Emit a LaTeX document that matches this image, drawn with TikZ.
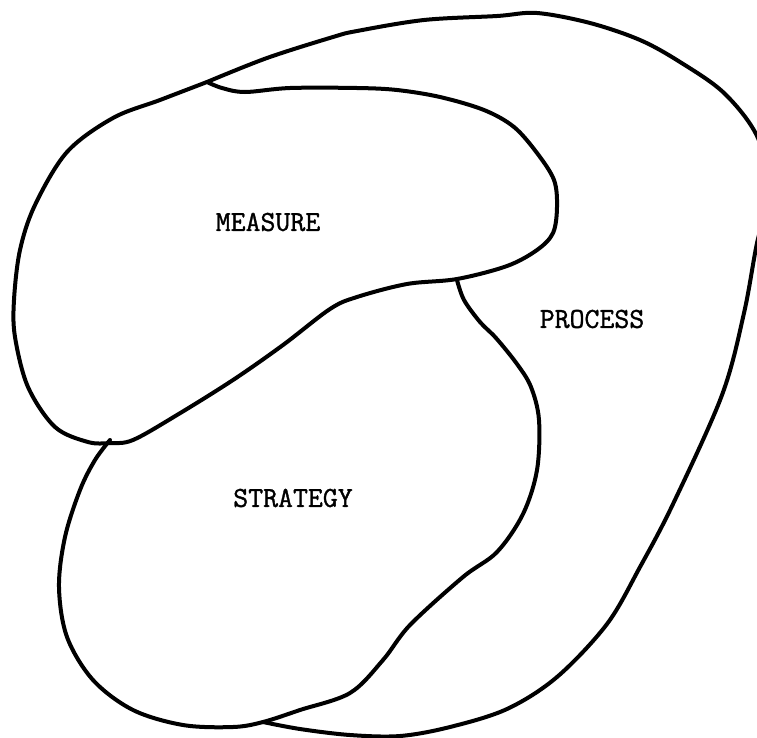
\documentclass[tikz,border=0pt]{standalone}
\usepackage{fontspec}
\newfontfamily\typewriter[FakeBold=1.2]{Latin Modern Mono}
\begin{document}
\begin{tikzpicture}[x=1pt,y=-1pt,
  blob/.style={line width=4pt,line join=round,line cap=round,black},
  lbl/.style={font=\typewriter\fontsize{29}{29}\selectfont,inner sep=0pt}]
\useasboundingbox (0,0) rectangle (757,737);
\clip (0,0) rectangle (757,737);
\fill[white] (0,0) rectangle (757,737);
% MEASURE
\draw[blob] plot[smooth,tension=0.55] coordinates {
 (207,82) (222,88) (245,92) (290,88) (357,88) (397,90) (440,97) (484,110)
 (514,127) (537,153) (554,180) (557,207) (553,233) (537,250) (507,266)
 (457,279) (407,284) (357,297) (330,309) (283,345) (233,380) (177,415)
 (133,440) (110,443) (88,442) (55,427) (28,387) (15,337) (14,300) (20,250)
 (35,205) (67,152) (113,118) (160,100) (207,82)};
% STRATEGY
\draw[blob] plot[smooth,tension=0.55] coordinates {
 (110,440) (95,460) (80,490) (65,537) (59,587) (67,637) (93,680) (133,710)
 (183,725) (233,727) (263,722) (300,710) (350,693) (383,660) (410,625)
 (463,577) (497,552) (523,514) (537,470) (539,420) (531,387) (517,364)
 (496,338) (480,322) (464,300) (457,280)};
% PROCESS
\draw[blob] plot[smooth,tension=0.55] coordinates {
 (207,82) (267,58) (333,37) (357,31) (424,20) (497,16) (537,13) (590,23)
 (640,40) (680,62) (724,93) (757,136) (770,190) (757,243) (744,313)
 (722,395) (673,504) (640,567) (607,624) (557,677) (507,709)
 (450,727) (400,736) (350,735) (300,729) (263,722)};
\node[lbl] (measure) at (268,222) {MEASURE};
\node[lbl] (strategy) at (293,498) {STRATEGY};
\node[lbl] (process) at (592,319) {PROCESS};
\end{tikzpicture}
\end{document}
